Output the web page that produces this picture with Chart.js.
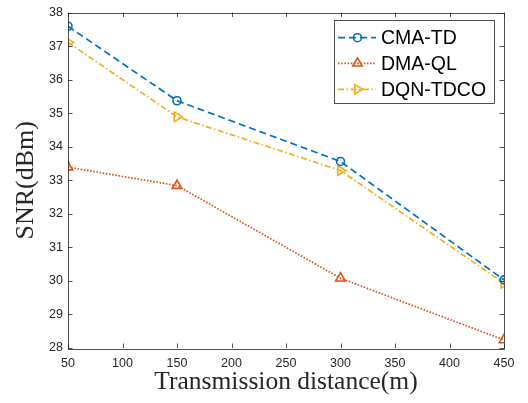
<!DOCTYPE html>
<html>
<head>
<meta charset="utf-8">
<script src="https://cdn.jsdelivr.net/npm/chart.js@4.4.1/dist/chart.umd.min.js"></script>
<style>
  html, body { margin: 0; padding: 0; background: #fff; }
  #wrap { width: 528px; height: 403px; }
</style>
</head>
<body>
<div id="wrap"><canvas id="snrChart"></canvas></div>
<script>
// data
const distances = [50, 150, 300, 450];
const cmaTd = [37.59, 35.37, 33.56, 30.03];
const dmaQl = [33.39, 32.84, 30.08, 28.24];
const dqnTdco = [37.11, 34.89, 33.29, 29.93];
const seriesNames = ['CMA-TD', 'DMA-QL', 'DQN-TDCO'];
const xTicks = [50, 100, 150, 200, 250, 300, 350, 400, 450];
const yTicks = [28, 29, 30, 31, 32, 33, 34, 35, 36, 37, 38];

const AXIS_COLOR = '#262626';

function toPoints(ys) {
  return distances.map((d, i) => ({ x: d, y: ys[i] }));
}

// MATLAB-style box with inward ticks on all four sides
const boxTicks = {
  id: 'boxTicks',
  afterDatasetsDraw(chart) {
    const { ctx, chartArea: a, scales } = chart;
    const len = 4.5;
    ctx.save();
    ctx.strokeStyle = AXIS_COLOR;
    ctx.lineWidth = 0.8;
    ctx.beginPath();
    xTicks.forEach(v => {
      const px = Math.round(scales.x.getPixelForValue(v)) + 0.5;
      ctx.moveTo(px, a.bottom); ctx.lineTo(px, a.bottom - len);
      ctx.moveTo(px, a.top); ctx.lineTo(px, a.top + len);
    });
    yTicks.forEach(v => {
      const py = Math.round(scales.y.getPixelForValue(v)) + 0.5;
      ctx.moveTo(a.left, py); ctx.lineTo(a.left + len, py);
      ctx.moveTo(a.right, py); ctx.lineTo(a.right - len, py);
    });
    ctx.stroke();
    ctx.strokeRect(Math.round(a.left) + 0.5, Math.round(a.top) + 0.5,
      Math.round(a.right - a.left), Math.round(a.bottom - a.top));
    ctx.restore();
  }
};

function drawMarker(ctx, style, x, y, r) {
  ctx.beginPath();
  if (style === 'circle') {
    ctx.arc(x, y, r, 0, Math.PI * 2);
  } else {
    const rot = style === 'right' ? Math.PI / 2 : 0;
    for (let k = 0; k < 3; k++) {
      const ang = rot + k * 2 * Math.PI / 3;
      const px = x + Math.sin(ang) * r, py = y - Math.cos(ang) * r;
      if (k === 0) ctx.moveTo(px, py); else ctx.lineTo(px, py);
    }
    ctx.closePath();
  }
  ctx.stroke();
}

// legend with line + marker samples, like the MATLAB one
const boxLegend = {
  id: 'boxLegend',
  afterDraw(chart) {
    const { ctx } = chart;
    const bx = 334.5, by = 20.5, bw = 160, bh = 83;
    const rowY = [37.7, 63.3, 89.3];
    const markers = ['circle', 'triangle', 'right'];
    const radii = [4, 5.5, 5.5];
    ctx.save();
    ctx.fillStyle = '#fff';
    ctx.fillRect(bx, by, bw, bh);
    ctx.strokeStyle = AXIS_COLOR;
    ctx.lineWidth = 0.8;
    ctx.strokeRect(bx, by, bw, bh);
    chart.data.datasets.forEach((ds, i) => {
      const y = rowY[i];
      ctx.strokeStyle = ds.borderColor;
      ctx.lineWidth = ds.borderWidth;
      ctx.setLineDash(ds.borderDash);
      ctx.beginPath();
      ctx.moveTo(338, y); ctx.lineTo(376, y);
      ctx.stroke();
      ctx.setLineDash([]);
      ctx.lineWidth = ds.pointBorderWidth;
      drawMarker(ctx, markers[i], 357.5, y, radii[i]);
      ctx.fillStyle = '#000';
      ctx.font = '19.5px "Liberation Sans", Arial, sans-serif';
      ctx.textBaseline = 'middle';
      ctx.fillText(seriesNames[i], 381, y + 1);
    });
    ctx.restore();
  }
};

new Chart(document.getElementById('snrChart'), {
  type: 'line',
  data: {
    datasets: [{
      label: seriesNames[0],
      data: toPoints(cmaTd),
      borderColor: '#0072BD',
      borderWidth: 1.7,
      borderDash: [7, 4],
      pointStyle: 'circle',
      pointRadius: 4,
      pointBorderWidth: 1.6,
      pointBackgroundColor: 'rgba(0,0,0,0)',
      tension: 0
    }, {
      label: seriesNames[1],
      data: toPoints(dmaQl),
      borderColor: '#D95319',
      borderWidth: 1.7,
      borderDash: [1.6, 1.6],
      pointStyle: 'triangle',
      pointRadius: 5.5,
      pointBorderWidth: 1.6,
      pointBackgroundColor: 'rgba(0,0,0,0)',
      tension: 0
    }, {
      label: seriesNames[2],
      data: toPoints(dqnTdco),
      borderColor: '#EDB120',
      borderWidth: 1.7,
      borderDash: [6, 2.5, 1.5, 2.5],
      pointStyle: 'triangle',
      pointRotation: 90,
      pointRadius: 5.5,
      pointBorderWidth: 1.6,
      pointBackgroundColor: 'rgba(0,0,0,0)',
      tension: 0
    }]
  },
  options: {
    responsive: true,
    maintainAspectRatio: false,
    animation: false,
    layout: { padding: { left: 0, right: 24, top: 10, bottom: 0 } },
    plugins: {
      legend: { display: false },
      tooltip: { enabled: false }
    },
    scales: {
      x: {
        type: 'linear',
        min: 50,
        max: 450,
        afterFit: s => { s.height = 55; },
        afterBuildTicks: s => { s.ticks = xTicks.map(v => ({ value: v })); },
        grid: { display: false, drawTicks: false },
        border: { display: false },
        ticks: {
          color: AXIS_COLOR,
          padding: 8,
          maxRotation: 0,
          font: { family: '"Liberation Sans", Arial, sans-serif', size: 12.5 }
        },
        title: {
          display: true,
          text: 'Transmission distance(m)',
          color: AXIS_COLOR,
          padding: { top: 0, bottom: 5 },
          font: { family: '"Liberation Serif", "Times New Roman", serif', size: 25.5 }
        }
      },
      y: {
        min: 28,
        max: 38,
        afterFit: s => { s.width = 68; },
        afterBuildTicks: s => { s.ticks = yTicks.map(v => ({ value: v })); },
        grid: { display: false, drawTicks: false },
        border: { display: false },
        ticks: {
          color: AXIS_COLOR,
          padding: 5,
          font: { family: '"Liberation Sans", Arial, sans-serif', size: 12.5 }
        },
        title: {
          display: true,
          text: 'SNR(dBm)',
          color: AXIS_COLOR,
          padding: { top: 11, bottom: 0 },
          font: { family: '"Liberation Serif", "Times New Roman", serif', size: 26 }
        }
      }
    }
  },
  plugins: [boxTicks, boxLegend]
});
</script>
</body>
</html>
